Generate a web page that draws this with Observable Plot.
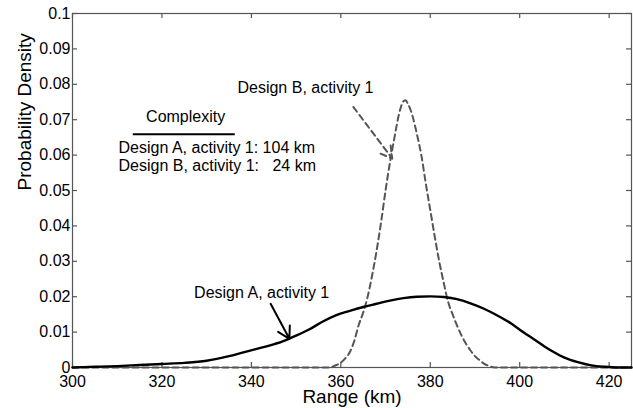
<!DOCTYPE html>
<html><head><meta charset="utf-8">
<script src="https://cdn.jsdelivr.net/npm/d3@7"></script>
<script src="https://cdn.jsdelivr.net/npm/@observablehq/plot@0.6"></script>
<style>
body{margin:0;background:#fff}
svg{font-family:"Liberation Sans",Arial,Helvetica,sans-serif}
</style>
</head><body><div id="chart"></div>
<script>
// Tick values
const xTicks = [300, 320, 340, 360, 380, 400, 420];
const yTicks = [0, 0.01, 0.02, 0.03, 0.04, 0.05, 0.06, 0.07, 0.08, 0.09, 0.1];

// Design A, activity 1 (solid)
const rangeA = [300,305,310,315,320,325,330,335,338,341,344,347,350,353,356,359,362,365,368,371,374,377,380,383,386,389,392,395,398,401,404,407,410,413,416,419,422,425];
const densityA = [0,0.0002,0.0004,0.0007,0.0010,0.0013,0.0019,0.0032,0.0042,0.0052,0.0062,0.0074,0.0090,0.0108,0.0130,0.0148,0.0160,0.0171,0.0180,0.0189,0.0196,0.0200,0.0201,0.0199,0.0193,0.0181,0.0166,0.0147,0.0125,0.0098,0.0073,0.0048,0.0028,0.0015,0.0006,0.0002,0,0];

// Design B, activity 1 (dashed)
const rangeB = [300,357,358,359,360,361,362,363,364,365,366,367,368,369,370,371,372,373,374,374.5,375,376,377,378,379,380,381,382,383,384,385,386,387,388,389,390,391,392,393,394,395,425];
const densityB = [0,0,0.0002,0.0007,0.0014,0.0026,0.0043,0.0075,0.0120,0.0155,0.0200,0.0260,0.0330,0.0410,0.0500,0.0580,0.0650,0.0715,0.0752,0.0755,0.0745,0.0712,0.0660,0.0600,0.0520,0.0445,0.0370,0.0300,0.0240,0.0185,0.0150,0.0118,0.0090,0.0067,0.0048,0.0032,0.0021,0.0011,0.0005,0.0001,0,0];

// Annotation texts
const curveLabels = ["Design A, activity 1", "Design B, activity 1"];
const curveLabelX = [342.3, 352.1];
const curveLabelY = [0.0212, 0.0789];
const arrowX1 = [344.3, 362.8], arrowY1 = [0.0180, 0.0736];
const arrowX2 = [348.5, 371.5], arrowY2 = [0.0081, 0.0590];

const legendTitle = "Complexity";
const legendLines = ["Design A, activity 1: 104 km", "Design B, activity 1: \u200724 km"];
const legendLineY = [0.0620, 0.0569];

const A = rangeA.map((x, i) => ({x, y: densityA[i]}));
const B = rangeB.map((x, i) => ({x, y: densityB[i]}));
const fmt = d => String(+d.toFixed(2));

const chart = Plot.plot({
  width: 633, height: 408,
  marginLeft: 72, marginRight: 2, marginTop: 13, marginBottom: 41,
  style: {fontFamily: '"Liberation Sans",Arial,Helvetica,sans-serif', fontSize: "16px", background: "#fff", color: "#000"},
  x: {domain: [300, 425]},
  y: {domain: [0, 0.1]},
  marks: [
    Plot.frame({stroke: "#555", strokeWidth: 1.2}),
    // inward ticks on all four sides
    Plot.ruleX(xTicks, {x: d => d, y1: 0, y2: 0, insetTop: -5, stroke: "#555", strokeWidth: 1.2}),
    Plot.ruleX(xTicks, {x: d => d, y1: 0.1, y2: 0.1, insetBottom: -5, stroke: "#555", strokeWidth: 1.2}),
    Plot.ruleY(yTicks, {y: d => d, x1: 300, x2: 300, insetRight: -5, stroke: "#555", strokeWidth: 1.2}),
    Plot.ruleY(yTicks, {y: d => d, x1: 425, x2: 425, insetLeft: -5, stroke: "#555", strokeWidth: 1.2}),
    Plot.axisX(xTicks, {tickSize: 0, tickPadding: 8, fontSize: 16, label: null, tickFormat: d => String(d)}),
    Plot.axisY(yTicks, {tickSize: 0, tickPadding: 2, fontSize: 16, label: null, tickFormat: fmt}),
    Plot.text(["Range (km)"], {frameAnchor: "bottom", dy: 35.5, fontSize: 19}),
    Plot.text(["Probability Density"], {frameAnchor: "left", rotate: -90, dx: -48, fontSize: 19}),
    // curves
    Plot.line(B, {x: "x", y: "y", stroke: "#555", strokeWidth: 2, strokeDasharray: "6,4", curve: "monotone-x"}),
    Plot.line(A, {x: "x", y: "y", stroke: "#000", strokeWidth: 2.4, curve: "monotone-x"}),
    // annotations
    Plot.arrow([0], {x1: () => arrowX1[0], y1: () => arrowY1[0], x2: () => arrowX2[0], y2: () => arrowY2[0], stroke: "#000", strokeWidth: 2, headLength: 10}),
    Plot.arrow([1], {x1: () => arrowX1[1], y1: () => arrowY1[1], x2: () => arrowX2[1], y2: () => arrowY2[1], stroke: "#555", strokeWidth: 2, strokeDasharray: "6,4", headLength: 10}),
    Plot.text(curveLabels, {x: (d, i) => curveLabelX[i], y: (d, i) => curveLabelY[i], text: d => d, fontSize: 16, fill: "#000"}),
    Plot.text([legendTitle], {x: 325.3, y: 0.0707, fontSize: 16, fill: "#000"}),
    Plot.ruleY([0.0659], {x1: 313.6, x2: 336.4, stroke: "#000", strokeWidth: 2}),
    Plot.text(legendLines, {x: 310.3, y: (d, i) => legendLineY[i], text: d => d, textAnchor: "start", fontSize: 16, fill: "#000"})
  ]
});
document.getElementById("chart").appendChild(chart);
</script>
</body></html>
